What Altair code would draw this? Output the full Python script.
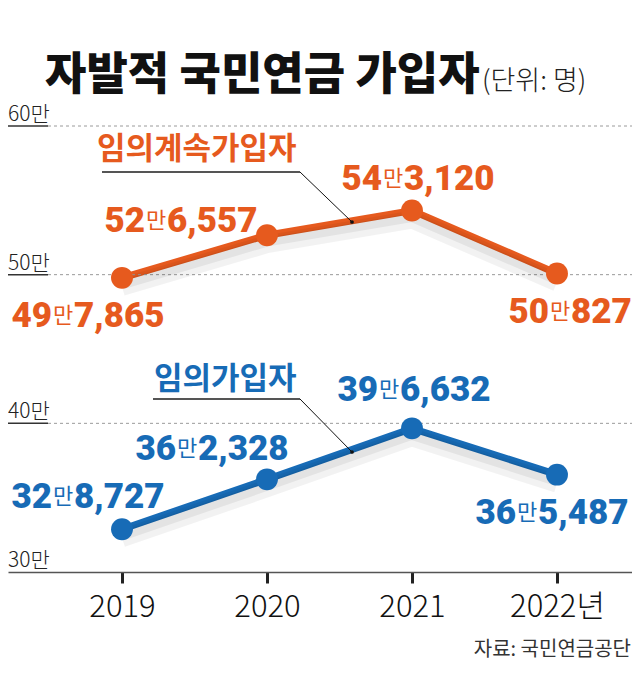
import altair as alt
import pandas as pd

# ---------------- data ----------------
years = [2019, 2020, 2021, 2022]
series_names = ["임의계속가입자", "임의가입자"]
values_continued = [497865, 526557, 543120, 500827]   # 임의계속가입자
values_voluntary = [328727, 362328, 396632, 365487]   # 임의가입자
grid_values = [300000, 400000, 500000, 600000]
grid_labels = ["30만", "40만", "50만", "60만"]
title_text = "자발적 국민연금 가입자"
unit_text = "(단위: 명)"
source_text = "자료: 국민연금공단"

# ---------------- layout / style ----------------
ORANGE = "#E65A1E"
BLUE = "#176BB6"
FONT = "Noto Sans CJK KR"
NUMFONT = "Roboto"

W, H = 624, 446            # plot area
PAD_T, PAD_B = 118, 100
PX_PER_YEAR = 145.0
X0 = 2019 - 114 / PX_PER_YEAR
X1 = X0 + W / PX_PER_YEAR
Y0, Y1 = 300000, 600000
PX_PER_VAL = H / (Y1 - Y0)

def page_x(px):   # page pixel -> year units
    return X0 + (px - 8) / PX_PER_YEAR

def page_y(py):   # page pixel -> value units
    return Y0 + (572 - py) / PX_PER_VAL

# label offsets (pixels, relative to the data point): anchor = start of "만", dy = baseline
label_dx = {"임의계속가입자": [-69, -121, -29, -7], "임의가입자": [-69, -90, -33, -40]}
label_dy = {"임의계속가입자": [49, -3, -21, 50], "임의가입자": [-21, -19, -27, 49]}

# ---------------- frames ----------------
rows = []
for name, vals in zip(series_names, [values_continued, values_voluntary]):
    for i, (yr, v) in enumerate(zip(years, vals)):
        ax = yr + label_dx[name][i] / PX_PER_YEAR
        by = v - label_dy[name][i] / PX_PER_VAL
        rows.append({
            "series": name, "year": yr, "value": v,
            "ax": ax, "ax_suf": ax + 21 / PX_PER_YEAR, "ax_pre": ax - 1 / PX_PER_YEAR,
            "by": by,
            "prefix": str(v // 10000), "suffix": f"{v % 10000:,}",
        })
df = pd.DataFrame(rows)

grid_df = pd.DataFrame({"v": grid_values, "lab": grid_labels})
grid_upper = grid_df[grid_df.v > Y0]

color = alt.Color("series:N", scale=alt.Scale(domain=series_names, range=[ORANGE, BLUE]), legend=None)
xs = alt.Scale(domain=[X0, X1], nice=False, zero=False)
ys = alt.Scale(domain=[Y0, Y1], nice=False, zero=False)

xaxis = alt.Axis(values=years, format="d", grid=False, title=None,
                 labelExpr="datum.value == 2022 ? '2022년' : datum.label",
                 domainColor="#555", domainWidth=1.5, tickColor="#222", tickWidth=3, tickSize=11,
                 labelFont=FONT, labelFontSize=31, labelFontWeight=300, labelColor="#111",
                 labelBaseline="alphabetic", labelPadding=33)


def X(field):
    return alt.X(field, scale=xs, axis=xaxis)


def Y(field):
    return alt.Y(field, scale=ys, axis=None)


base = alt.Chart(df)

grid = alt.Chart(grid_upper).mark_rule(color="#9a9a9a", strokeDash=[3, 3], strokeWidth=1).encode(
    y=Y("v:Q"), x=alt.value(40), x2=alt.value(W))
under = alt.Chart(grid_upper).mark_rule(color="#333", strokeWidth=1.5).encode(
    y=Y("v:Q"), x=alt.value(0), x2=alt.value(40))
ylab = alt.Chart(grid_df).mark_text(align="left", baseline="alphabetic", dy=-5, font=FONT,
                                      fontSize=21, fontWeight=300, color="#222").encode(
    y=Y("v:Q"), x=alt.value(0), text="lab:N")

shadow1 = base.mark_line(color="#000", opacity=0.05, strokeWidth=18, yOffset=9).encode(
    x=X("year:Q"), y=Y("value:Q"), detail="series:N")
shadow2 = base.mark_line(color="#000", opacity=0.06, strokeWidth=9, yOffset=7).encode(
    x=X("year:Q"), y=Y("value:Q"), detail="series:N")
lines = base.mark_line(strokeWidth=7).encode(x=X("year:Q"), y=Y("value:Q"), color=color)
points = base.mark_circle(size=480, opacity=1).encode(x=X("year:Q"), y=Y("value:Q"), color=color)

# leader lines (page-pixel anchors converted to data units)
leader_h = pd.DataFrame({
    "x": [page_x(102), page_x(153)], "x2": [page_x(300), page_x(300)],
    "y": [page_y(172), page_y(399)]})
leader_d = pd.DataFrame({
    "x": [page_x(300), page_x(300)], "x2": [page_x(352), page_x(352)],
    "y": [page_y(172), page_y(399)], "y2": [page_y(222), page_y(452)]})
lh = alt.Chart(leader_h).mark_rule(color="#555", strokeWidth=2).encode(
    x=X("x:Q"), x2="x2:Q", y=Y("y:Q"))
ld = alt.Chart(leader_d).mark_rule(color="#111", strokeWidth=1).encode(
    x=X("x:Q"), x2="x2:Q", y=Y("y:Q"), y2="y2:Q")
ldot = alt.Chart(leader_d).mark_circle(color="#111", size=14, opacity=1).encode(
    x=X("x2:Q"), y=Y("y2:Q"))

names_df = pd.DataFrame({"series": series_names,
                         "x": [page_x(97), page_x(154)],
                         "y": [page_y(159), page_y(389)]})
names = alt.Chart(names_df).mark_text(align="left", baseline="alphabetic", font=FONT,
                                        fontSize=31, fontWeight="bold").encode(
    x=X("x:Q"), y=Y("y:Q"), text="series:N", color=color)

pre = base.mark_text(align="right", baseline="alphabetic", font=NUMFONT, fontSize=35,
                     fontWeight=900).encode(
    x=X("ax_pre:Q"), y=Y("by:Q"), text="prefix:N", color=color)
man = base.mark_text(align="left", baseline="alphabetic", font=FONT, fontSize=22, dy=-4,
                     fontWeight="normal", text="만").encode(
    x=X("ax:Q"), y=Y("by:Q"), color=color)
suf = base.mark_text(align="left", baseline="alphabetic", font=NUMFONT, fontSize=35,
                     fontWeight=900).encode(
    x=X("ax_suf:Q"), y=Y("by:Q"), text="suffix:N", color=color)

title_df = pd.DataFrame({"t": [title_text]})
title = alt.Chart(title_df).mark_text(align="left", baseline="alphabetic", font=FONT, fontSize=45,
                                        fontWeight=900, color="#111").encode(
    x=alt.value(37), y=alt.value(-36), text="t:N")
unit_df = pd.DataFrame({"t": [unit_text]})
unit = alt.Chart(unit_df).mark_text(align="left", baseline="alphabetic", font=FONT, fontSize=27,
                                      fontWeight=300, color="#222").encode(
    x=alt.value(474), y=alt.value(-36), text="t:N")
src_df = pd.DataFrame({"t": [source_text]})
src = alt.Chart(src_df).mark_text(align="right", baseline="alphabetic", font=FONT, fontSize=20,
                                    color="#333").encode(
    x=alt.value(W - 1), y=alt.value(530), text="t:N")

chart = alt.layer(lines, grid, under, ylab, shadow1, shadow2, points, lh, ld, ldot, names,
                  pre, man, suf, title, unit, src).properties(
    width=W, height=H,
    padding={"left": 0, "right": 0, "top": PAD_T, "bottom": PAD_B},
    autosize=alt.AutoSizeParams(type="none"),
    background="white",
).configure_view(stroke=None)

chart.save("out.html", embed_options={"renderer": "svg", "actions": False})
